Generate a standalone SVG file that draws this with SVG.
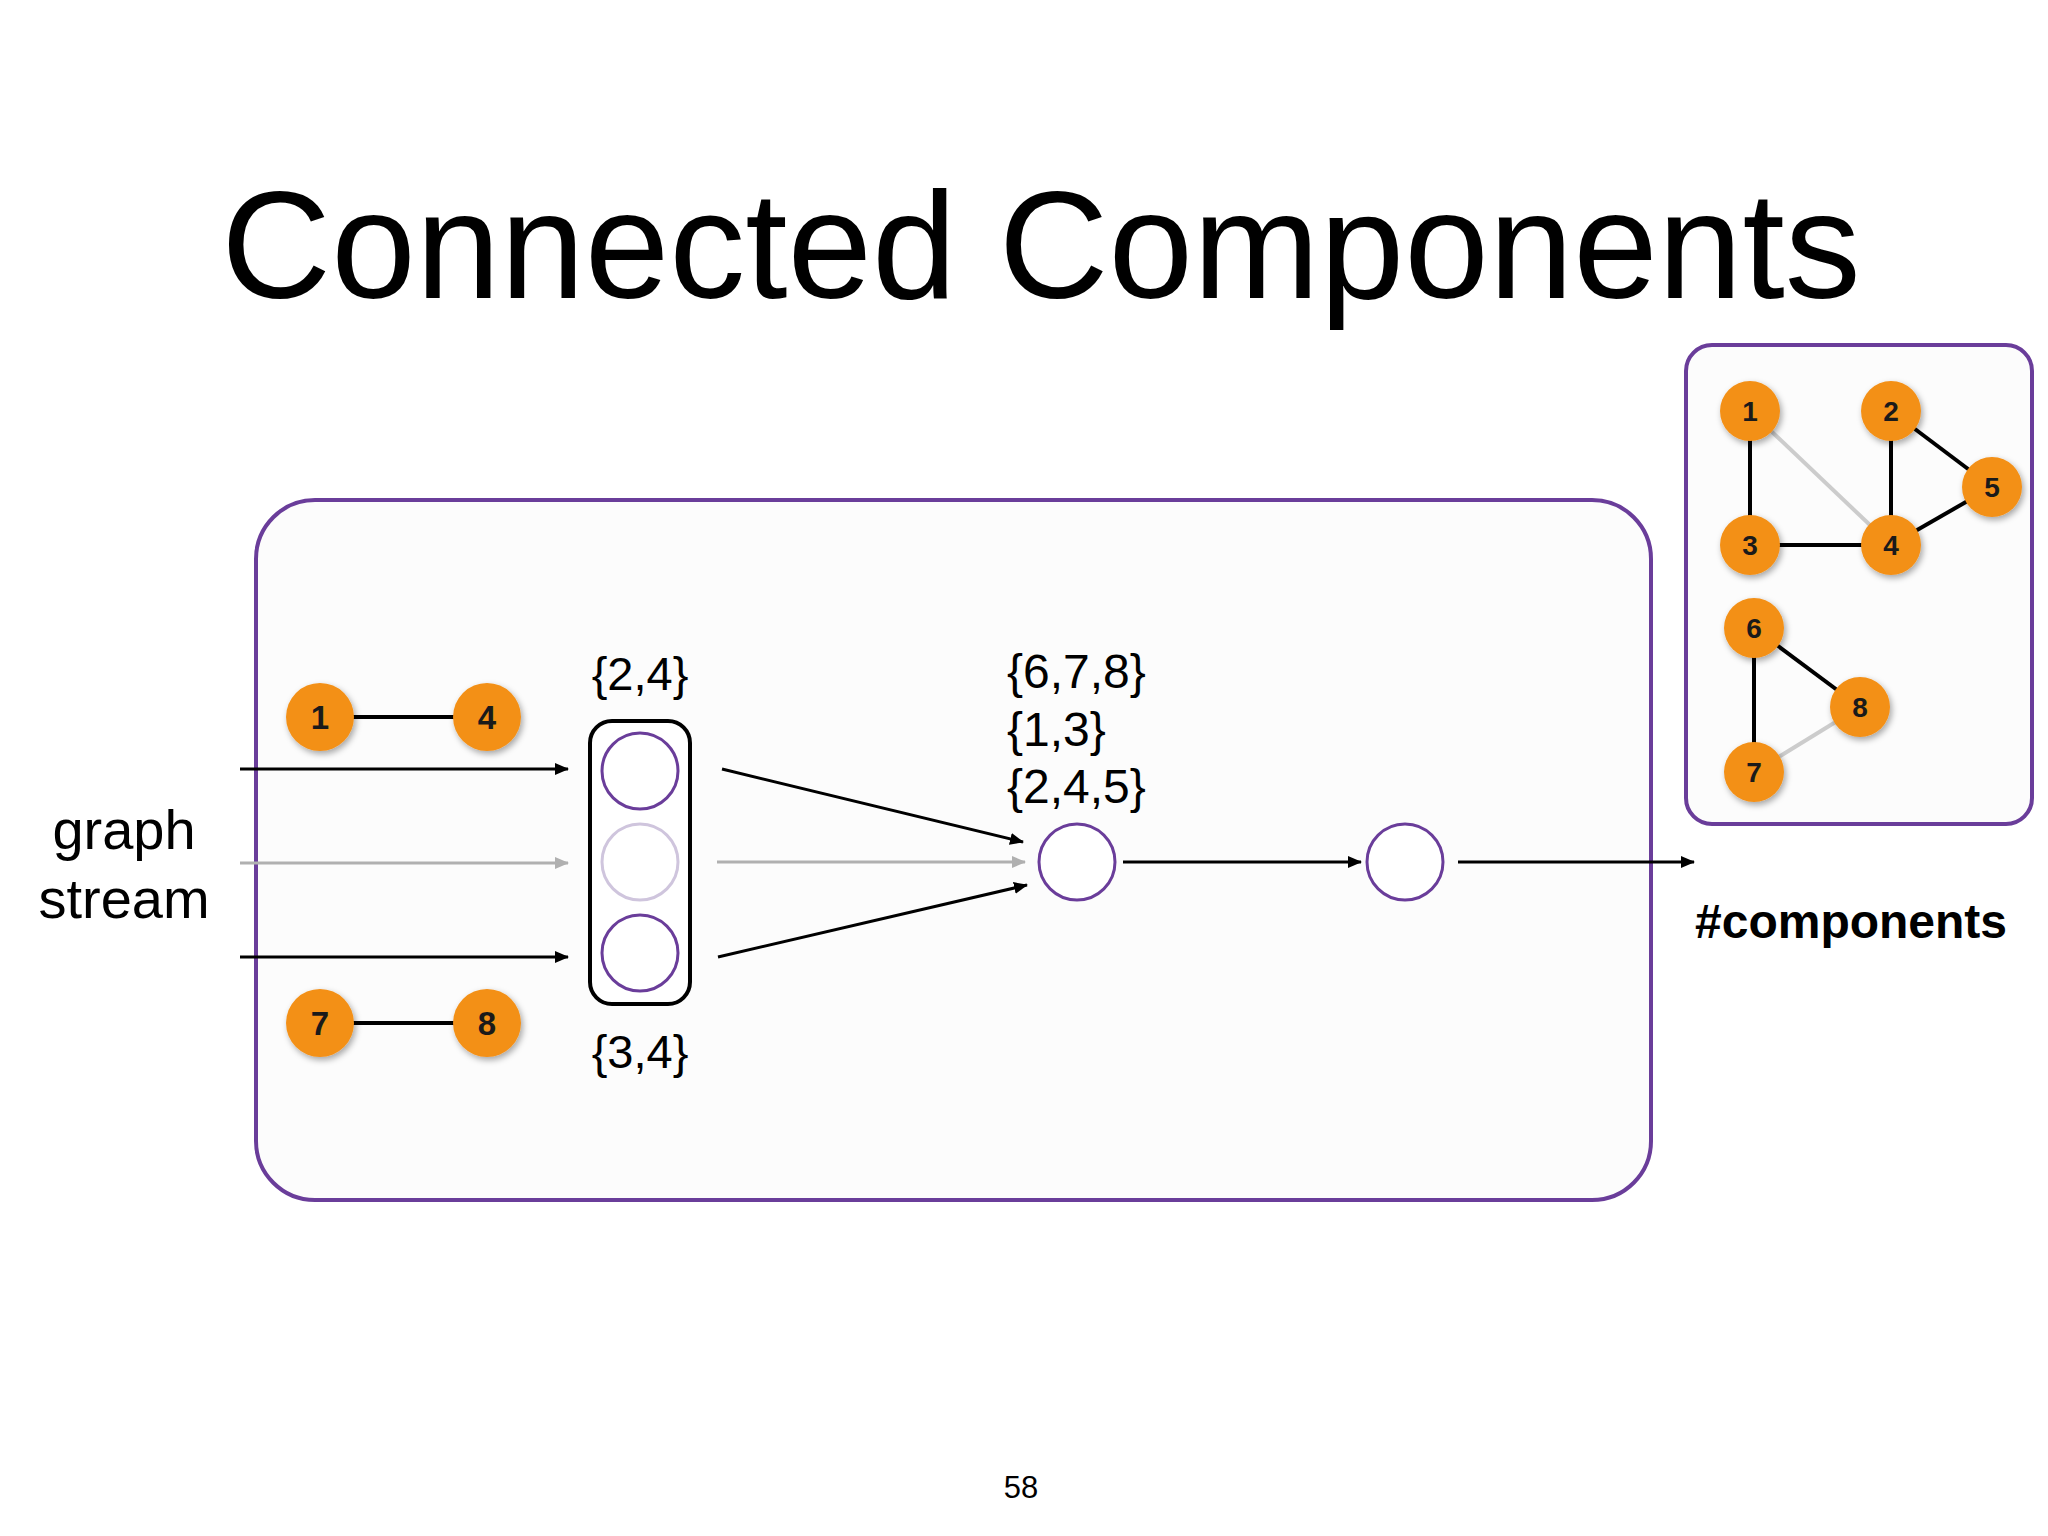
<svg xmlns="http://www.w3.org/2000/svg" width="2048" height="1536" viewBox="0 0 2048 1536">
<style>
.t{font-family:"Helvetica Neue","Liberation Sans",Arial,sans-serif;fill:#000}
.on{fill:#F39019;filter:url(#sh)}
.ol{font-family:"Liberation Sans",Arial,sans-serif;font-weight:bold;fill:#1a1a1a;text-anchor:middle}
.pc{fill:#fff;stroke:#6A3D9A;stroke-width:3}
.bk{stroke:#000;stroke-width:3;fill:none}
.gy{stroke:#b0b0b0;stroke-width:3;fill:none}
.gyl{stroke:#cccccc;stroke-width:4;fill:none}
.bkl{stroke:#000;stroke-width:4;fill:none}
</style>
<defs>
<filter id="sh" x="-30%" y="-30%" width="170%" height="170%"><feDropShadow dx="2" dy="3" stdDeviation="3" flood-opacity="0.35"/></filter>
<marker id="ab" markerWidth="14" markerHeight="12" refX="13" refY="6" orient="auto" markerUnits="userSpaceOnUse"><path d="M0,0 L14,6 L0,12 z" fill="#000"/></marker>
<marker id="ag" markerWidth="14" markerHeight="12" refX="13" refY="6" orient="auto" markerUnits="userSpaceOnUse"><path d="M0,0 L14,6 L0,12 z" fill="#b0b0b0"/></marker>
</defs>
<rect width="2048" height="1536" fill="#fff"/>
<text class="t" x="1041" y="298" font-size="152" text-anchor="middle">Connected Components</text>
<g id="mainbox"><rect x="256" y="500" width="1395" height="700" rx="59" fill="#fcfcfc" stroke="#6A3D9A" stroke-width="4"/></g>
<g id="rightbox"><rect x="1686" y="345" width="346" height="479" rx="26" fill="#fcfcfc" stroke="#6A3D9A" stroke-width="4"/></g>
<g id="connectors">
<line class="bk" x1="240" y1="769" x2="568" y2="769" marker-end="url(#ab)"/>
<line class="gy" x1="240" y1="863" x2="568" y2="863" marker-end="url(#ag)"/>
<line class="bk" x1="240" y1="957" x2="568" y2="957" marker-end="url(#ab)"/>
<line class="bk" x1="722" y1="769" x2="1023" y2="842" marker-end="url(#ab)"/>
<line class="gy" x1="717" y1="862" x2="1025" y2="862" marker-end="url(#ag)"/>
<line class="bk" x1="718" y1="957" x2="1027" y2="885" marker-end="url(#ab)"/>
<line class="bk" x1="1123" y1="862" x2="1361" y2="862" marker-end="url(#ab)"/>
<line class="bk" x1="1458" y1="862" x2="1694" y2="862" marker-end="url(#ab)"/>
<line class="bkl" x1="320" y1="717" x2="487" y2="717"/>
<line class="bkl" x1="320" y1="1023" x2="487" y2="1023"/>
<line class="bkl" x1="1750" y1="411" x2="1750" y2="545"/>
<line class="gyl" x1="1750" y1="411" x2="1891" y2="545"/>
<line class="bkl" x1="1750" y1="545" x2="1891" y2="545"/>
<line class="bkl" x1="1891" y1="411" x2="1891" y2="545"/>
<line class="bkl" x1="1891" y1="411" x2="1992" y2="487"/>
<line class="bkl" x1="1992" y1="487" x2="1891" y2="545"/>
<line class="bkl" x1="1754" y1="628" x2="1754" y2="772"/>
<line class="bkl" x1="1754" y1="628" x2="1860" y2="707"/>
<line class="gyl" x1="1860" y1="707" x2="1754" y2="772"/>
</g>
<g id="e14"><circle class="on" cx="320" cy="717" r="34"/><text class="ol" x="320" y="729" font-size="33">1</text><circle class="on" cx="487" cy="717" r="34"/><text class="ol" x="487" y="729" font-size="33">4</text></g>
<g id="e78"><circle class="on" cx="320" cy="1023" r="34"/><text class="ol" x="320" y="1035" font-size="33">7</text><circle class="on" cx="487" cy="1023" r="34"/><text class="ol" x="487" y="1035" font-size="33">8</text></g>
<g id="label-gs"><text class="t" x="124" y="849" font-size="56" text-anchor="middle" fill="#222">graph</text><text class="t" x="124" y="918" font-size="56" text-anchor="middle" fill="#222">stream</text></g>
<g id="stack">
<rect x="590" y="721" width="100" height="283" rx="22" fill="#fff" stroke="#000" stroke-width="4"/>
<circle class="pc" cx="640" cy="771" r="38"/>
<circle cx="640" cy="862" r="38" fill="#fff" stroke="#cfc5dd" stroke-width="3"/>
<circle class="pc" cx="640" cy="953" r="38"/>
<text class="t" x="640" y="690" font-size="47" text-anchor="middle" fill="#222">{2,4}</text>
<text class="t" x="640" y="1068" font-size="47" text-anchor="middle" fill="#222">{3,4}</text>
</g>
<g id="merge"><circle class="pc" cx="1077" cy="862" r="38"/>
<text class="t" x="1007" y="688" font-size="48" fill="#222">{6,7,8}</text>
<text class="t" x="1007" y="746" font-size="48" fill="#222">{1,3}</text>
<text class="t" x="1007" y="803" font-size="48" fill="#222">{2,4,5}</text></g>
<g id="count"><circle class="pc" cx="1405" cy="862" r="38"/></g>
<text class="t" x="1695" y="938" font-size="48" font-weight="bold">#components</text>
<g id="graph">
<circle class="on" cx="1750" cy="411" r="30"/><text class="ol" x="1750" y="421" font-size="28">1</text>
<circle class="on" cx="1891" cy="411" r="30"/><text class="ol" x="1891" y="421" font-size="28">2</text>
<circle class="on" cx="1992" cy="487" r="30"/><text class="ol" x="1992" y="497" font-size="28">5</text>
<circle class="on" cx="1750" cy="545" r="30"/><text class="ol" x="1750" y="555" font-size="28">3</text>
<circle class="on" cx="1891" cy="545" r="30"/><text class="ol" x="1891" y="555" font-size="28">4</text>
<circle class="on" cx="1754" cy="628" r="30"/><text class="ol" x="1754" y="638" font-size="28">6</text>
<circle class="on" cx="1860" cy="707" r="30"/><text class="ol" x="1860" y="717" font-size="28">8</text>
<circle class="on" cx="1754" cy="772" r="30"/><text class="ol" x="1754" y="782" font-size="28">7</text>
</g>
<text class="t" x="1021" y="1498" font-size="31" text-anchor="middle" fill="#333">58</text>
</svg>
